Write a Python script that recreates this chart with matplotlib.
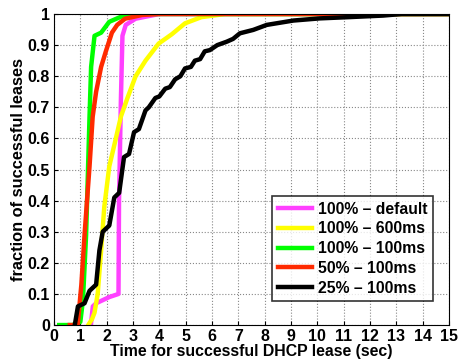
import numpy as np
import matplotlib
matplotlib.use("Agg")
import matplotlib.pyplot as plt

plt.rcParams['font.family'] = ['Liberation Sans', 'DejaVu Sans']
plt.rcParams['font.weight'] = 'bold'

# CDF curves: (time in sec, fraction of successful leases)
default_x = [1.40, 1.475, 1.6, 2.1, 2.45, 2.47, 2.54, 2.6, 2.725, 3.1, 4.0, 15]
default_y = [0.0, 0.06, 0.07, 0.09, 0.10, 0.40, 0.72, 0.93, 0.965, 0.985, 1.0, 1.0]

ms600_x = [1.3, 1.45, 1.54, 1.66, 1.79, 1.91, 2.1, 2.35, 2.54, 2.79, 3.1, 3.475,
           3.975, 4.475, 4.975, 5.6, 6.5, 15]
ms600_y = [0.0, 0.02, 0.04, 0.10, 0.24, 0.38, 0.51, 0.60, 0.67, 0.73, 0.80, 0.85,
           0.905, 0.935, 0.97, 0.99, 1.0, 1.0]

ms100_x = [0.2, 0.7, 1.0, 1.1, 1.22, 1.35, 1.41, 1.54, 1.79, 2.1, 2.7, 3.0, 15]
ms100_y = [0.0, 0.0, 0.01, 0.08, 0.29, 0.67, 0.83, 0.93, 0.94, 0.975, 0.997, 1.0, 1.0]

half_x = [0.6, 0.9, 1.04, 1.16, 1.35, 1.47, 1.6, 1.79, 1.97, 2.2, 2.4, 2.7, 3.35, 4.0, 15]
half_y = [0.0, 0.0, 0.13, 0.29, 0.51, 0.67, 0.75, 0.83, 0.88, 0.94, 0.965, 0.985, 0.997, 1.0, 1.0]

quarter_x = [0.79, 0.91, 1.16, 1.35, 1.6, 1.725, 1.85, 2.1, 2.29, 2.475, 2.66, 2.85,
             3.04, 3.225, 3.475, 3.6, 3.85, 4.0, 4.225, 4.4, 4.6, 4.8, 4.975, 5.2,
             5.35, 5.55, 5.725, 5.92, 6.2, 6.56, 6.8, 7.06, 7.57, 8.08, 9.09, 10.1,
             11.2, 12.5, 13.2, 15]
quarter_y = [0.0, 0.06, 0.07, 0.11, 0.13, 0.24, 0.30, 0.32, 0.41, 0.425, 0.54, 0.55,
             0.62, 0.63, 0.69, 0.70, 0.73, 0.735, 0.76, 0.765, 0.79, 0.80, 0.825, 0.83,
             0.85, 0.855, 0.88, 0.884, 0.90, 0.911, 0.92, 0.938, 0.949, 0.965, 0.979,
             0.986, 0.99, 0.995, 1.0, 1.0]

series = [
    (default_x, default_y, '#ff40ff', '100% \u2013 default'),
    (ms600_x, ms600_y, '#ffff00', '100% \u2013 600ms'),
    (ms100_x, ms100_y, '#00ff00', '100% \u2013 100ms'),
    (half_x, half_y, '#ff2a00', '50% \u2013 100ms'),
    (quarter_x, quarter_y, '#000000', '25% \u2013 100ms'),
]

fig = plt.figure(figsize=(4.59, 3.64), dpi=100)
ax = fig.add_axes([0.1176, 0.107, 0.8606, 0.8545])

for xs, ys, color, label in series:
    ax.plot(xs, ys, color=color, linewidth=3.2, label=label)

ax.set_xlim(0, 15)
ax.set_ylim(0, 1)
ax.set_xticks(range(0, 16))
ax.set_yticks(np.round(np.arange(0, 1.01, 0.1), 1))
ax.set_yticklabels(['0', '0.1', '0.2', '0.3', '0.4', '0.5', '0.6', '0.7', '0.8', '0.9', '1'])
ax.tick_params(direction='in', labelsize=11.5, length=3, pad=3)
ax.grid(True, linestyle=':', color='#888888', linewidth=0.8)
ax.set_xlabel('Time for successful DHCP lease (sec)', fontsize=11.4, fontweight='bold', labelpad=0)
ax.set_ylabel('fraction of successful leases', fontsize=11.8, fontweight='bold', labelpad=1)

leg = ax.legend(loc='lower right', bbox_to_anchor=(0.959, 0.077), borderaxespad=0,
                fontsize=11.3, frameon=True, fancybox=False, edgecolor='black',
                handlelength=2.2, labelspacing=0.3, handletextpad=0.35,
                borderpad=0.35)
leg.get_frame().set_linewidth(1.2)
for t in leg.get_texts():
    t.set_fontweight('bold')

fig.savefig('out.png', dpi=100)
